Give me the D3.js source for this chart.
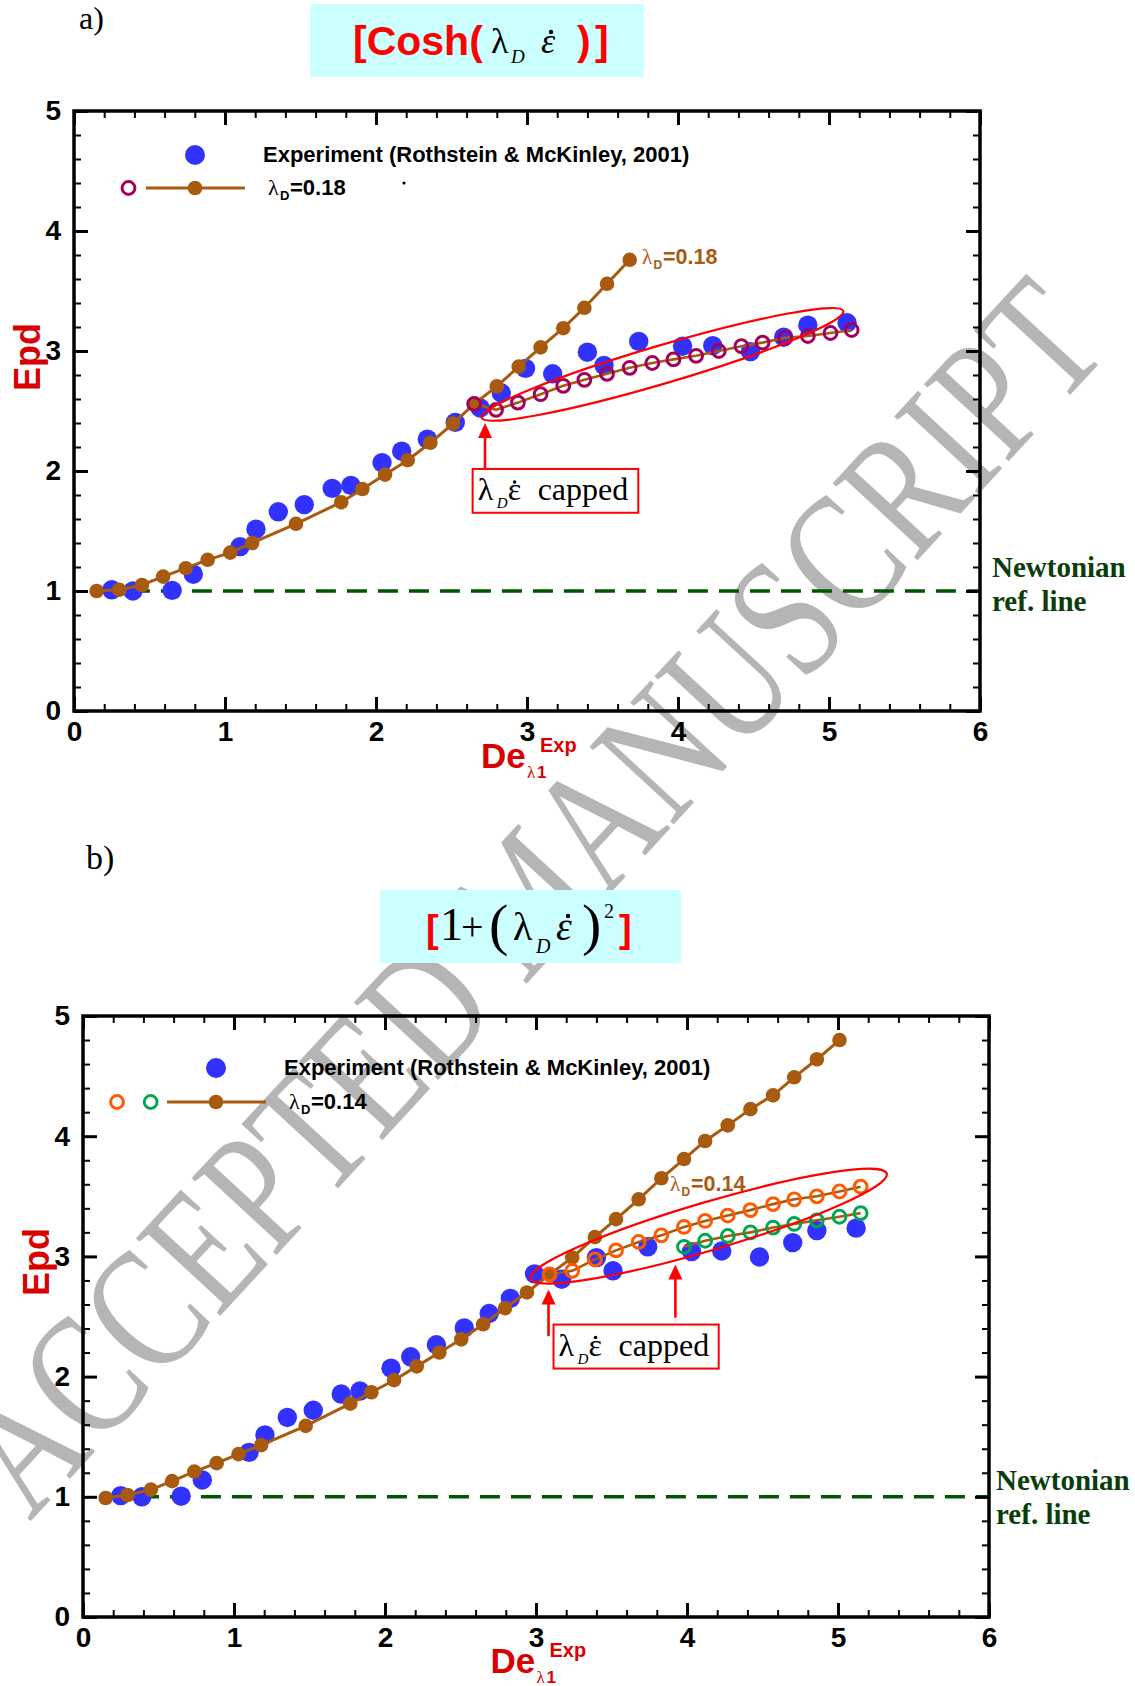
<!DOCTYPE html>
<html>
<head>
<meta charset="utf-8">
<script src="https://cdn.jsdelivr.net/npm/d3@7/dist/d3.min.js"></script>
<style>
html,body{margin:0;padding:0;background:#fff;}
svg{display:block;}
</style>
</head>
<body>
<svg id="chart" width="1135" height="1686"></svg>
<script>
// ---------------- data ----------------
const xTicks = [0, 1, 2, 3, 4, 5, 6];
const yTicks = [0, 1, 2, 3, 4, 5];
const xTickLabels = ["0", "1", "2", "3", "4", "5", "6"];
const yTickLabels = ["0", "1", "2", "3", "4", "5"];

// Experiment (Rothstein & McKinley, 2001)
const expX = [0.25, 0.39, 0.65, 0.79, 1.10, 1.205, 1.353, 1.525, 1.71, 1.834, 2.04, 2.17, 2.34, 2.525, 2.69, 2.83, 2.99, 3.17, 3.40, 3.51, 3.74, 4.03, 4.23, 4.48, 4.70, 4.86, 5.12];
const expY = [1.01, 1.0, 1.005, 1.14, 1.37, 1.515, 1.66, 1.72, 1.855, 1.88, 2.07, 2.165, 2.265, 2.405, 2.525, 2.65, 2.855, 2.81, 2.99, 2.88, 3.08, 3.04, 3.045, 2.995, 3.115, 3.215, 3.235];

// panel a: Cosh model, lambda_D = 0.18
const aModelX = [0.15, 0.30, 0.45, 0.59, 0.74, 0.885, 1.035, 1.18, 1.47, 1.77, 1.91, 2.06, 2.21, 2.36, 2.51, 2.65, 2.80, 2.945, 3.09, 3.24, 3.38, 3.53, 3.68];
const aModelY = [1.0, 1.01, 1.05, 1.12, 1.19, 1.26, 1.32, 1.40, 1.56, 1.74, 1.85, 1.97, 2.09, 2.235, 2.395, 2.56, 2.705, 2.87, 3.03, 3.19, 3.36, 3.56, 3.76];
const aCapX = [2.65, 2.795, 2.94, 3.09, 3.24, 3.38, 3.53, 3.68, 3.83, 3.97, 4.12, 4.27, 4.42, 4.56, 4.71, 4.86, 5.01, 5.15];
const aCapY = [2.56, 2.51, 2.57, 2.64, 2.71, 2.76, 2.81, 2.86, 2.90, 2.93, 2.96, 3.00, 3.04, 3.07, 3.11, 3.125, 3.15, 3.175];

// panel b: 1+(lambda_D eps)^2 model, lambda_D = 0.14
const bModelX = [0.15, 0.295, 0.45, 0.59, 0.737, 0.885, 1.03, 1.18, 1.475, 1.77, 1.91, 2.06, 2.21, 2.36, 2.505, 2.65, 2.795, 2.94, 3.09, 3.24, 3.39, 3.53, 3.68, 3.83, 3.98, 4.12, 4.27, 4.42, 4.57, 4.71, 4.86, 5.01];
const bModelY = [0.99, 1.015, 1.06, 1.13, 1.21, 1.28, 1.355, 1.43, 1.59, 1.775, 1.87, 1.97, 2.085, 2.20, 2.31, 2.435, 2.57, 2.70, 2.85, 2.99, 3.16, 3.31, 3.475, 3.65, 3.81, 3.96, 4.09, 4.225, 4.34, 4.49, 4.64, 4.80];
const bCapOX = [3.09, 3.24, 3.39, 3.53, 3.68, 3.83, 3.98, 4.12, 4.27, 4.42, 4.57, 4.71, 4.86, 5.01, 5.15];
const bCapOY = [2.85, 2.88, 2.975, 3.05, 3.12, 3.175, 3.245, 3.295, 3.34, 3.385, 3.435, 3.475, 3.50, 3.54, 3.58];
const bCapGX = [3.98, 4.12, 4.27, 4.42, 4.57, 4.71, 4.86, 5.01, 5.15];
const bCapGY = [3.08, 3.13, 3.17, 3.20, 3.24, 3.27, 3.30, 3.33, 3.36];

// Newtonian reference line
const refY = 1;
const refX0 = 0.165;

// annotation anchors (data units)
const aEllipse = {x1: 2.70, y1: 2.444, x2: 5.095, y2: 3.333};
const bEllipse = {x1: 2.963, y1: 2.814, x2: 5.323, y2: 3.689};
const aArrows = [{x: 2.722, tip: 2.40, base: 2.017}];
const bArrows = [{x: 3.083, tip: 2.725, base: 2.336}, {x: 3.923, tip: 2.933, base: 2.49}];
const aBox = {x1: 2.64, x2: 3.737, y1: 2.017, y2: 1.652};
const bBox = {x1: 3.116, x2: 4.21, y1: 2.433, y2: 2.067};

// ---------------- drawing ----------------
const SANS = "'Liberation Sans', Arial, Helvetica, sans-serif";
const SERIF = "'Liberation Serif', 'Times New Roman', Times, serif";
const COL = {
  blue: '#3232ff', brown: '#a85a0e', purple: '#a3005c', orange: '#ff5a00', green: '#00a651',
  ref: '#005500', refText: '#0b3d0b', red: '#ff0000', axisRed: '#d90000', box: '#ccffff'
};

const svg = d3.select('#chart');
svg.append('rect').attr('width', 1135).attr('height', 1686).attr('fill', '#fff');
const defs = svg.append('defs');

// watermark (behind everything)
svg.append('text')
  .attr('transform', 'translate(30,1522) rotate(-47.3) scale(1,1.3)')
  .attr('font-family', SERIF).attr('font-size', 134.5).attr('fill', '#b5b5b5')
  .text('ACCEPTED MANUSCRIPT');

function rich(g, parts) {
  parts.forEach(q => {
    g.append('text').attr('x', q.x).attr('y', q.y)
      .attr('font-family', q.f || SERIF).attr('font-size', q.s)
      .attr('font-weight', q.w || 'normal').attr('font-style', q.i ? 'italic' : 'normal')
      .attr('fill', q.c || '#000').text(q.t);
  });
}

const xMinor = d3.range(1, 30).filter(i => i % 5 !== 0).map(i => i / 5);
const yMinor = d3.range(1, 25).filter(i => i % 5 !== 0).map(i => i / 5);

function styleAxis(sel, w) {
  sel.select('.domain').remove();
  sel.selectAll('line').attr('stroke', '#000').attr('stroke-width', w);
  sel.selectAll('text').attr('font-family', SANS).attr('font-weight', 'bold')
    .attr('font-size', 28).attr('fill', '#000');
}

function drawPanel(p) {
  const x = d3.scaleLinear().domain([0, 6]).range([p.left, p.right]);
  const y = d3.scaleLinear().domain([0, 5]).range([p.bottom, p.top]);
  const g = svg.append('g');
  const clipId = 'clip-' + p.id;
  defs.append('clipPath').attr('id', clipId).append('rect')
    .attr('x', p.left).attr('y', p.top).attr('width', p.right - p.left).attr('height', p.bottom - p.top);
  const data = g.append('g').attr('clip-path', `url(#${clipId})`);

  // Newtonian reference line
  data.append('line')
    .attr('x1', x(refX0)).attr('x2', x(6)).attr('y1', y(refY)).attr('y2', y(refY))
    .attr('stroke', COL.ref).attr('stroke-width', 3.5).attr('stroke-dasharray', '20,11');

  // experiment
  data.selectAll('circle.exp').data(d3.zip(expX, expY)).join('circle').attr('class', 'exp')
    .attr('cx', d => x(d[0])).attr('cy', d => y(d[1])).attr('r', 9.7).attr('fill', COL.blue);

  const line = d3.line().x(d => x(d[0])).y(d => y(d[1]));

  // model curve
  const m = d3.zip(p.modelX, p.modelY);
  data.append('path').attr('d', line(m)).attr('fill', 'none')
    .attr('stroke', COL.brown).attr('stroke-width', 3);
  data.selectAll('circle.model').data(m).join('circle').attr('class', 'model')
    .attr('cx', d => x(d[0])).attr('cy', d => y(d[1])).attr('r', 7.3).attr('fill', COL.brown);

  // capped series
  p.capped.forEach((c, k) => {
    const pts = d3.zip(c.x, c.y);
    data.append('path').attr('d', line(pts)).attr('fill', 'none')
      .attr('stroke', COL.brown).attr('stroke-width', 2.6);
    data.selectAll('circle.cap' + k).data(pts).join('circle').attr('class', 'cap' + k)
      .attr('cx', d => x(d[0])).attr('cy', d => y(d[1])).attr('r', 6.4)
      .attr('fill', 'none').attr('stroke', c.color).attr('stroke-width', 3);
  });

  // axes
  const ax = g.append('g');
  ax.append('g').attr('transform', `translate(0,${p.bottom})`)
    .call(d3.axisBottom(x).tickValues(xTicks).tickSize(-14).tickPadding(10).tickFormat((d, i) => xTickLabels[i]))
    .call(s => styleAxis(s, 3));
  ax.append('g').attr('transform', `translate(0,${p.bottom})`)
    .call(d3.axisBottom(x).tickValues(xMinor).tickSize(-7).tickFormat(''))
    .call(s => styleAxis(s, 2));
  ax.append('g').attr('transform', `translate(0,${p.top})`)
    .call(d3.axisTop(x).tickValues(xTicks).tickSize(-14).tickFormat(''))
    .call(s => styleAxis(s, 3));
  ax.append('g').attr('transform', `translate(0,${p.top})`)
    .call(d3.axisTop(x).tickValues(xMinor).tickSize(-7).tickFormat(''))
    .call(s => styleAxis(s, 2));
  ax.append('g').attr('transform', `translate(${p.left},0)`)
    .call(d3.axisLeft(y).tickValues(yTicks).tickSize(-14).tickPadding(13).tickFormat((d, i) => yTickLabels[i]))
    .call(s => styleAxis(s, 3));
  ax.append('g').attr('transform', `translate(${p.left},0)`)
    .call(d3.axisLeft(y).tickValues(yMinor).tickSize(-7).tickFormat(''))
    .call(s => styleAxis(s, 2));
  ax.append('g').attr('transform', `translate(${p.right},0)`)
    .call(d3.axisRight(y).tickValues(yTicks).tickSize(-14).tickFormat(''))
    .call(s => styleAxis(s, 3));
  ax.append('g').attr('transform', `translate(${p.right},0)`)
    .call(d3.axisRight(y).tickValues(yMinor).tickSize(-7).tickFormat(''))
    .call(s => styleAxis(s, 2));
  g.append('rect').attr('x', p.left).attr('y', p.top)
    .attr('width', p.right - p.left).attr('height', p.bottom - p.top)
    .attr('fill', 'none').attr('stroke', '#000').attr('stroke-width', 3.5);

  // axis titles
  g.append('text').attr('transform', `translate(${p.yTitleX},${p.yTitleY}) rotate(-90)`)
    .attr('text-anchor', 'middle').attr('font-family', SANS).attr('font-weight', 'bold')
    .attr('font-size', 36).attr('fill', COL.axisRed).text('Epd');
  const xt = p.xTitle;
  rich(g, [
    {t: 'De', x: xt.x, y: xt.y, s: 35, f: SANS, w: 'bold', c: COL.axisRed},
    {t: 'λ', x: xt.x + 46, y: xt.y + 10, s: 17, f: SERIF, c: COL.axisRed},
    {t: '1', x: xt.x + 56, y: xt.y + 10, s: 17, f: SANS, w: 'bold', c: COL.axisRed},
    {t: 'Exp', x: xt.x + 59, y: xt.y - 16.5, s: 20, f: SANS, w: 'bold', c: COL.axisRed}
  ]);

  // Newtonian label
  rich(g, [
    {t: 'Newtonian', x: p.newt.x, y: p.newt.y, s: 29, f: SERIF, w: 'bold', c: COL.refText},
    {t: 'ref. line', x: p.newt.x, y: p.newt.y + 34, s: 29, f: SERIF, w: 'bold', c: COL.refText}
  ]);

  // ellipse
  const e = p.ellipse;
  const ex1 = x(e.x1), ey1 = y(e.y1), ex2 = x(e.x2), ey2 = y(e.y2);
  const ecx = (ex1 + ex2) / 2, ecy = (ey1 + ey2) / 2;
  const erx = Math.hypot(ex2 - ex1, ey2 - ey1) / 2;
  const eang = Math.atan2(ey2 - ey1, ex2 - ex1) * 180 / Math.PI;
  g.append('ellipse').attr('cx', ecx).attr('cy', ecy).attr('rx', erx).attr('ry', p.ellipseRy)
    .attr('transform', `rotate(${eang},${ecx},${ecy})`)
    .attr('fill', 'none').attr('stroke', COL.red).attr('stroke-width', 2.2);

  // arrows
  p.arrows.forEach(a => {
    const X = x(a.x), T = y(a.tip), B = y(a.base);
    g.append('line').attr('x1', X).attr('x2', X).attr('y1', B).attr('y2', T + 12)
      .attr('stroke', COL.red).attr('stroke-width', 2.6);
    g.append('path').attr('d', `M${X},${T} L${X - 7},${T + 15} L${X + 7},${T + 15} Z`).attr('fill', COL.red);
  });

  // capped box
  const bx = x(p.box.x1), by = y(p.box.y1), bw = x(p.box.x2) - bx, bh = y(p.box.y2) - by;
  g.append('rect').attr('x', bx).attr('y', by).attr('width', bw).attr('height', bh)
    .attr('fill', '#fff').attr('stroke', COL.red).attr('stroke-width', 2);
  const tb = by + 31;
  rich(g, [
    {t: 'λ', x: bx + 5, y: tb, s: 32},
    {t: 'D', x: bx + 24, y: tb + 8, s: 15, i: true},
    {t: 'ε', x: bx + 35, y: tb, s: 32},
    {t: 'capped', x: bx + 65, y: tb, s: 32}
  ]);
  g.append('circle').attr('cx', bx + 42).attr('cy', tb - 18).attr('r', 1.8).attr('fill', '#000');

  // curve label
  const cl = p.curveLabel;
  rich(g, [
    {t: 'λ', x: cl.x, y: cl.y, s: 21, c: COL.brown},
    {t: 'D', x: cl.x + 11.5, y: cl.y + 5, s: 12, f: SANS, w: 'bold', c: COL.brown},
    {t: cl.text, x: cl.x + 21, y: cl.y, s: 21.5, f: SANS, w: 'bold', c: COL.brown}
  ]);

  // legend
  const L = p.legend;
  g.append('circle').attr('cx', L.expDot).attr('cy', L.y1).attr('r', 10).attr('fill', COL.blue);
  rich(g, [{t: 'Experiment (Rothstein & McKinley, 2001)', x: L.textX, y: L.y1 + 7, s: 22, f: SANS, w: 'bold'}]);
  L.open.forEach(o => {
    g.append('circle').attr('cx', o.cx).attr('cy', L.y2).attr('r', 6.4)
      .attr('fill', 'none').attr('stroke', o.color).attr('stroke-width', 3);
  });
  g.append('line').attr('x1', L.lineX1).attr('x2', L.lineX2).attr('y1', L.y2).attr('y2', L.y2)
    .attr('stroke', COL.brown).attr('stroke-width', 3);
  g.append('circle').attr('cx', L.expDot).attr('cy', L.y2).attr('r', 7.3).attr('fill', COL.brown);
  rich(g, [
    {t: 'λ', x: L.textX + 5, y: L.y2 + 7, s: 22},
    {t: 'D', x: L.textX + 17, y: L.y2 + 12, s: 13, f: SANS, w: 'bold'},
    {t: L.label, x: L.textX + 27, y: L.y2 + 7, s: 22, f: SANS, w: 'bold'}
  ]);
  if (L.stray) g.append('circle').attr('cx', L.stray[0]).attr('cy', L.stray[1]).attr('r', 1.6).attr('fill', '#000');
}

// ---- panel a ----
drawPanel({
  id: 'a', left: 74, right: 980, top: 111, bottom: 711,
  modelX: aModelX, modelY: aModelY,
  capped: [{x: aCapX, y: aCapY, color: COL.purple}],
  yTitleX: 40, yTitleY: 357,
  xTitle: {x: 481, y: 768},
  newt: {x: 992, y: 577},
  ellipse: aEllipse, ellipseRy: 19,
  arrows: aArrows, box: aBox,
  curveLabel: {x: 642, y: 264, text: '=0.18'},
  legend: {y1: 155, y2: 188, expDot: 195, textX: 263, lineX1: 146, lineX2: 245,
           open: [{cx: 128.5, color: COL.purple}], label: '=0.18', stray: [404, 183]}
});

// ---- panel b ----
drawPanel({
  id: 'b', left: 83, right: 989, top: 1016, bottom: 1617,
  modelX: bModelX, modelY: bModelY,
  capped: [{x: bCapOX, y: bCapOY, color: COL.orange}, {x: bCapGX, y: bCapGY, color: COL.green}],
  yTitleX: 49, yTitleY: 1262,
  xTitle: {x: 490.5, y: 1673},
  newt: {x: 996, y: 1490},
  ellipse: bEllipse, ellipseRy: 24,
  arrows: bArrows, box: bBox,
  curveLabel: {x: 670, y: 1191, text: '=0.14'},
  legend: {y1: 1068, y2: 1102, expDot: 216, textX: 284, lineX1: 167, lineX2: 266,
           open: [{cx: 117, color: COL.orange}, {cx: 150.7, color: COL.green}], label: '=0.14'}
});

// ---- panel letters and title boxes ----
rich(svg, [{t: 'a)', x: 79, y: 29, s: 32}, {t: 'b)', x: 86, y: 869, s: 34}]);

svg.append('rect').attr('x', 310).attr('y', 4).attr('width', 334).attr('height', 73).attr('fill', COL.box);
const ta = svg.append('g');
rich(ta, [
  {t: '[Cosh(', x: 353, y: 55, s: 41, f: SANS, w: 'bold', c: COL.red},
  {t: 'λ', x: 491, y: 53, s: 36},
  {t: 'D', x: 511, y: 63, s: 19, i: true},
  {t: 'ε', x: 541, y: 53, s: 36, i: true},
  {t: ')', x: 577, y: 55, s: 41, f: SANS, w: 'bold', c: COL.red},
  {t: ']', x: 595, y: 55, s: 41, f: SANS, w: 'bold', c: COL.red}
]);
ta.append('circle').attr('cx', 551).attr('cy', 32).attr('r', 2.2).attr('fill', '#000');

svg.append('rect').attr('x', 380).attr('y', 890).attr('width', 301).attr('height', 73).attr('fill', COL.box);
const tbx = svg.append('g');
rich(tbx, [
  {t: '[', x: 426, y: 942, s: 38, f: SANS, w: 'bold', c: COL.red},
  {t: '1', x: 440, y: 940, s: 46},
  {t: '+', x: 461, y: 940, s: 40},
  {t: '(', x: 489, y: 944, s: 58},
  {t: 'λ', x: 513, y: 940, s: 40},
  {t: 'D', x: 536, y: 953, s: 20, i: true},
  {t: 'ε', x: 556, y: 940, s: 40, i: true},
  {t: ')', x: 582, y: 944, s: 58},
  {t: '2', x: 604, y: 918, s: 20},
  {t: ']', x: 619, y: 942, s: 38, f: SANS, w: 'bold', c: COL.red}
]);
tbx.append('circle').attr('cx', 568).attr('cy', 916).attr('r', 2.2).attr('fill', '#000');
</script>
</body>
</html>
